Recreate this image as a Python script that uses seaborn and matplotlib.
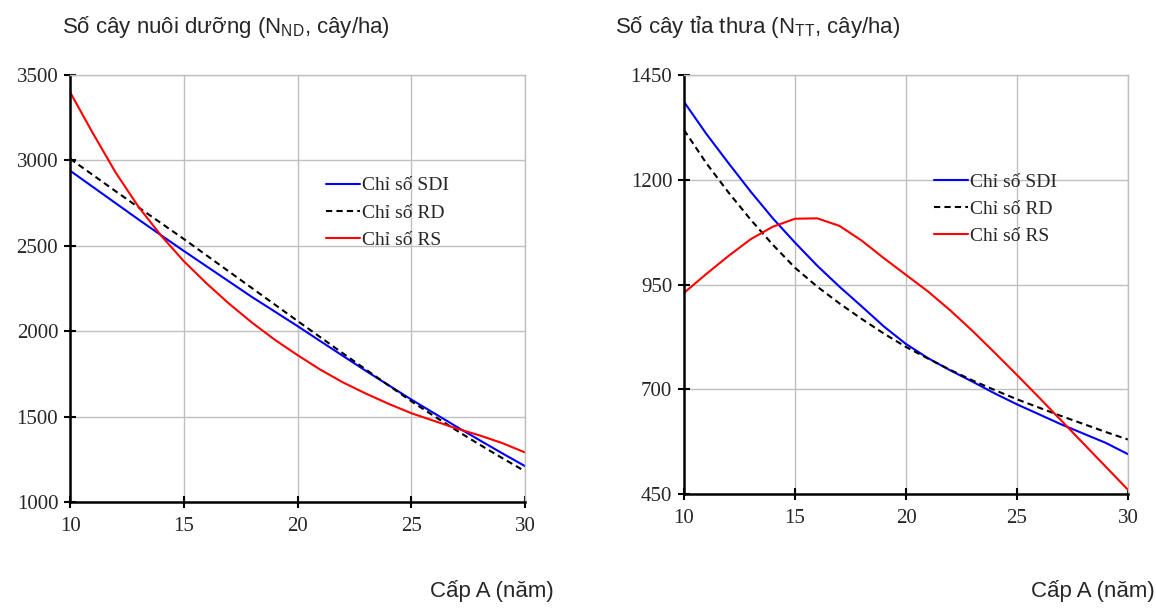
import matplotlib
matplotlib.use("Agg")
import matplotlib.pyplot as plt
import pandas as pd
import seaborn as sns

# x: cấp A (năm)
age = list(range(10, 31))

# Left panel: số cây nuôi dưỡng
nd_sdi = [2940, 2845, 2750, 2655, 2562, 2470, 2380, 2290, 2200, 2115, 2030,
          1942, 1855, 1768, 1684, 1600, 1520, 1440, 1362, 1285, 1210]
nd_rd = [3010, 2915, 2820, 2726, 2633, 2540, 2444, 2348, 2252, 2156, 2060,
         1965, 1870, 1776, 1683, 1590, 1503, 1418, 1336, 1257, 1180]
nd_rs = [3400, 3160, 2930, 2730, 2560, 2410, 2280, 2160, 2050, 1950, 1860,
         1775, 1700, 1635, 1575, 1520, 1475, 1430, 1390, 1345, 1290]

# Right panel: số cây tỉa thưa
tt_sdi = [1386, 1310, 1240, 1172, 1108, 1050, 995, 945, 898, 850, 808,
          774, 745, 718, 690, 664, 640, 616, 594, 572, 545]
tt_rd = [1319, 1240, 1170, 1105, 1045, 990, 945, 905, 868, 833, 801,
         773, 746, 721, 698, 676, 656, 636, 617, 598, 580]
tt_rs = [930, 975, 1018, 1058, 1088, 1107, 1108, 1090, 1055, 1013, 973,
         933, 888, 839, 787, 734, 680, 625, 570, 515, 460]

labels = ["Chỉ số SDI", "Chỉ số RD", "Chỉ số RS"]
colors = ["#0000ff", "#000000", "#ff0000"]

sns.set_theme(style="white")
plt.rcParams["font.family"] = ["Liberation Sans", "DejaVu Sans"]
serif = ["Liberation Serif", "DejaVu Serif"]


def draw(ax, series, ylim, yticks, title, title_x, leg_anchor):
    df = pd.DataFrame({"age": age * 3,
                       "value": sum(series, []),
                       "kind": [lab for lab in labels for _ in age]})
    sns.lineplot(data=df, x="age", y="value", hue="kind", style="kind",
                 palette=colors, dashes=["", (3, 2), ""], linewidth=1.5,
                 ax=ax)
    ax.set_xlim(10, 30)
    ax.set_ylim(*ylim)
    ax.set_xticks([10, 15, 20, 25, 30])
    ax.set_yticks(yticks)
    ax.grid(True, color="#bfbfbf", linewidth=1)
    ax.set_axisbelow(True)
    for s in ("top", "right"):
        ax.spines[s].set_color("#bfbfbf")
        ax.spines[s].set_linewidth(1)
    for s in ("left", "bottom"):
        ax.spines[s].set_color("black")
        ax.spines[s].set_linewidth(1.8)
    ax.tick_params(axis="both", direction="inout", length=9, width=1.5,
                   color="black", labelsize=15, bottom=True, left=True)
    ax.tick_params(axis="y", pad=4)
    ax.tick_params(axis="x", pad=6)
    for t in ax.get_xticklabels() + ax.get_yticklabels():
        t.set_family(serif)
    ax.set_xlabel("")
    ax.set_ylabel("")
    ax.legend(loc="upper left", bbox_to_anchor=leg_anchor, frameon=False,
              handlelength=1.75, handletextpad=0.1, labelspacing=0.5,
              borderaxespad=0, prop={"family": serif, "size": 14})
    ax.set_title(title, fontsize=16, loc="left", x=title_x, y=1.08)


fig = plt.figure(figsize=(11.56, 6.09), dpi=100)
ax1 = fig.add_axes([0.0606, 0.1757, 0.3936, 0.7011])
ax2 = fig.add_axes([0.5917, 0.1888, 0.3841, 0.6880])

draw(ax1, [nd_sdi, nd_rd, nd_rs], (1000, 3500), [1000, 1500, 2000, 2500, 3000, 3500],
     r"Số cây nuôi dưỡng (N$\mathregular{_{ND}}$, cây/ha)", -0.018, (0.545, 0.78))
draw(ax2, [tt_sdi, tt_rd, tt_rs], (450, 1450), [450, 700, 950, 1200, 1450],
     r"Số cây tỉa thưa (N$\mathregular{_{TT}}$, cây/ha)", -0.155, (0.545, 0.785))

fig.text(0.479, 0.012, "Cấp A (năm)", fontsize=16, ha="right", va="bottom")
fig.text(0.999, 0.012, "Cấp A (năm)", fontsize=16, ha="right", va="bottom")

fig.savefig("out.png", dpi=100)
